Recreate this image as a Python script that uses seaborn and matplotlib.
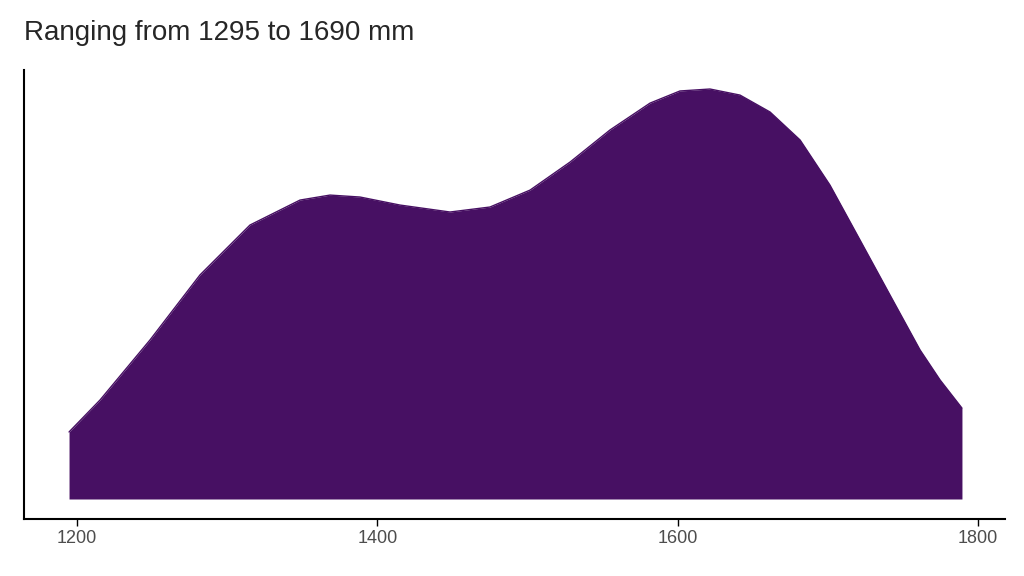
import matplotlib
matplotlib.use("Agg")
import matplotlib.pyplot as plt
import seaborn as sns
import pandas as pd

# density curve (x in mm, density in 1e-4 units)
x_mm = [1194.7, 1215.3, 1248.6, 1281.9, 1315.2, 1348.5, 1368.5, 1388.5, 1415.1, 1448.4,
        1475.0, 1501.7, 1528.3, 1554.9, 1581.6, 1601.5, 1621.5, 1641.5, 1661.5, 1681.5,
        1701.4, 1721.4, 1741.4, 1761.4, 1774.7, 1789.3]
dens = [3.76, 5.55, 8.92, 12.57, 15.37, 16.77, 17.05, 16.94, 16.49, 16.10,
        16.38, 17.33, 18.90, 20.70, 22.21, 22.89, 23.00, 22.66, 21.71, 20.14,
        17.61, 14.53, 11.44, 8.36, 6.68, 5.10]
ticks = [1200, 1400, 1600, 1800]
title = "Ranging from 1295 to 1690 mm"
color = "#471063"

sns.set_theme(style="white")
plt.rcParams['font.family'] = ['Liberation Sans', 'DejaVu Sans']
fig = plt.figure(figsize=(10.24, 5.76), dpi=100)
ax = fig.add_axes([24/1024, 1-519/576, (1005-24)/1024, (519-70)/576])

df = pd.DataFrame({"x": x_mm, "d": dens})
ax.fill_between(df["x"], 0, df["d"], color=color, linewidth=0)
sns.lineplot(data=df, x="x", y="d", color=color, linewidth=1, ax=ax)

ax.set_xlim(1200 + (24-77)/1.5017, 1200 + (1005-77)/1.5017)
ax.set_ylim(-20*0.0561, 429*0.0561)
ax.set_xticks(ticks)
ax.set_xticklabels([str(t) for t in ticks], fontsize=13, color="#4d4d4d")
ax.set_yticks([])
ax.set_xlabel("")
ax.set_ylabel("")
for s in ["top", "right"]:
    ax.spines[s].set_visible(False)
for s in ["left", "bottom"]:
    ax.spines[s].set_color("black")
    ax.spines[s].set_linewidth(1.5)
ax.tick_params(axis="x", length=5, width=1, color="black", bottom=True, pad=3)
fig.text(24/1024, 1-33/576, title, fontsize=20, va="center", ha="left")
fig.savefig("out.png", dpi=100)
